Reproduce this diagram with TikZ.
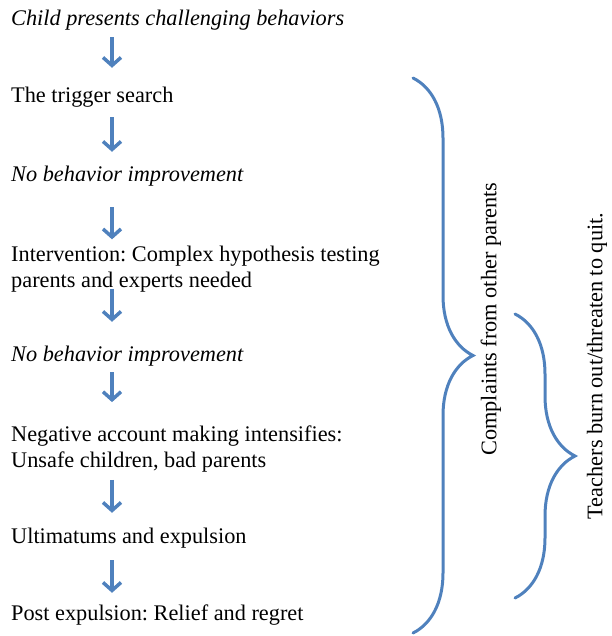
\documentclass[tikz,border=0pt]{standalone}
\usepackage{fontspec}
\setmainfont{Liberation Serif}
\frenchspacing
\usetikzlibrary{arrows.meta,decorations.pathreplacing}
\definecolor{officeblue}{RGB}{79, 129, 189}

\begin{document}
\begin{tikzpicture}[x=1pt, y=-1pt,
        every node/.style={inner sep=0pt, font=\fontsize{22.3}{26}\selectfont},
        stage/.style={anchor=base west, text height=15pt, text depth=5pt},
        twoline/.style={anchor=base west, align=left},
        flow/.style={officeblue, line width=3.5pt, -{Straight Barb[length=8pt, width=18pt]}},
        curly/.style={officeblue, line width=3pt, line cap=round, decorate, decoration={brace, amplitude=60pt}}]
            \useasboundingbox (0,0) rectangle (611,636);
            \coordinate (spine) at (112,0);

            % base of a two-line node sits on its last line
            \node[stage]   (child)      at (11, 26) {\textit{Child presents challenging behaviors}};
            \node[stage]   (trigger)    at (11,103) {The trigger search};
            \node[stage]   (noimprove)  at (11,182) {\textit{No behavior improvement}};
            \node[twoline] (hypothesis) at (11,287) {Intervention: Complex hypothesis testing\\parents and experts needed};
            \node[stage]   (stillnone)  at (11,361) {\textit{No behavior improvement}};
            \node[twoline] (negative)   at (11,467) {Negative account making intensifies:\\Unsafe children, bad parents};
            \node[stage]   (ultimatum)  at (11,543) {Ultimatums and expulsion};
            \node[stage]   (post)       at (11,620) {Post expulsion: Relief and regret};

            \draw[flow, shorten <=6pt,  shorten >=20pt] (child.south -| spine)      -- (trigger.north -| spine);
            \draw[flow, shorten <=9pt,  shorten >=15pt] (trigger.south -| spine)    -- (noimprove.north -| spine);
            \draw[flow, shorten <=20pt, shorten >=6pt]  (noimprove.south -| spine)  -- (hypothesis.north -| spine);
            \draw[flow, shorten <=-3pt, shorten >=24pt] (hypothesis.south -| spine) -- (stillnone.north -| spine);
            \draw[flow, shorten <=6pt,  shorten >=23pt] (stillnone.south -| spine)  -- (negative.north -| spine);
            \draw[flow, shorten <=8pt,  shorten >=15pt] (negative.south -| spine)   -- (ultimatum.north -| spine);
            \draw[flow, shorten <=12pt, shorten >=12pt] (ultimatum.south -| spine)  -- (post.north -| spine);

            \draw[curly] (413,78) -- (413,633);
            \draw[curly] (515,314) -- (515,598);

            \node[rotate=90] (complaints) at (491,319) {Complaints from other parents};
            \node[rotate=90] (burnout)    at (597,366) {Teachers burn out/threaten to quit.};
        \end{tikzpicture}
\end{document}
